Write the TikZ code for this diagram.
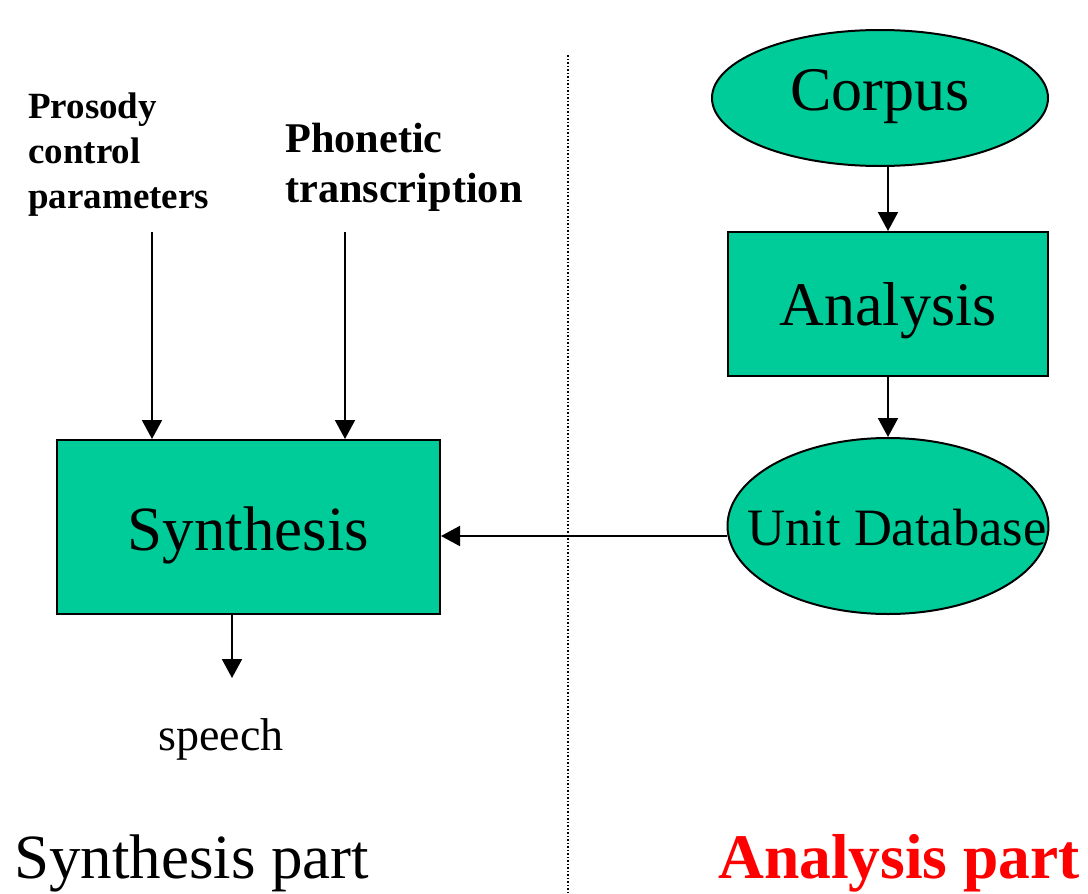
\documentclass[tikz,border=0pt]{standalone}
\usepackage{fontspec}
\setmainfont{Liberation Serif}
\usetikzlibrary{shapes.geometric,arrows.meta}
\definecolor{boxgreen}{HTML}{00CC99}
\definecolor{partred}{HTML}{FF0000}
\tikzset{
  box/.style={draw=black, line width=2pt, fill=boxgreen, rectangle, inner sep=0pt, text depth=0pt},
  oval/.style={draw=black, line width=2pt, fill=boxgreen, ellipse, inner sep=0pt, text depth=0pt},
  conn/.style={line width=2pt, -{Triangle[length=19pt,width=20pt]}},
}
\begin{document}
\begin{tikzpicture}[x=1pt,y=-1pt]
\useasboundingbox (0,0) rectangle (1088,894);
\draw[line width=1.5pt, dotted] (568,55) -- (568,894);

\node[oval, minimum width=336pt, minimum height=136pt, text height=24pt, font=\fontsize{62}{70}\selectfont] (corpus) at (880,98) {\makebox[0pt]{Corpus}};
\node[box, minimum width=320pt, minimum height=144pt, text height=42pt, font=\fontsize{62}{70}\selectfont] (analysis) at (888,304) {\makebox[0pt]{Analysis}};
\node[oval, minimum width=321pt, minimum height=176pt, text height=38pt, font=\fontsize{52.5}{60}\selectfont] (unitdb) at (888,526) {\makebox[0pt]{\hspace{18pt}Unit Database}};
\node[box, minimum width=383pt, minimum height=174pt, text height=46pt, font=\fontsize{63}{70}\selectfont] (synth) at (248.5,527) {\makebox[0pt]{Synthesis}};

\node[anchor=base west, align=left, inner sep=0pt, font=\bfseries\fontsize{37}{45}\selectfont] (prosody) at (28,208) {Prosody\\control\\parameters};
\node[anchor=base west, align=left, inner sep=0pt, font=\bfseries\fontsize{42.3}{50}\selectfont] (phon) at (285,202) {Phonetic\\transcription};
\node[anchor=base, inner sep=0pt, font=\fontsize{46}{52}\selectfont] (speech) at (221,750) {speech};

\node[anchor=base west, inner sep=0pt, font=\fontsize{63}{70}\selectfont] (synpart) at (14,878) {Synthesis part};
\node[anchor=base east, inner sep=0pt, text=partred, font=\bfseries\fontsize{63.5}{70}\selectfont] (anapart) at (1080,878) {Analysis part};

\coordinate (p1) at (152,232);
\coordinate (p2) at (345,232);
\coordinate (sp) at (232,678);

\draw[conn] (corpus.south -| 888,0) -- (analysis.north);
\draw[conn] (analysis.south) -- (unitdb.north);
\draw[conn] (unitdb.west |- 0,536) -- (synth.east |- 0,536);
\draw[conn] (p1) -- (p1 |- synth.north);
\draw[conn] (p2) -- (p2 |- synth.north);
\draw[conn] (synth.south -| sp) -- (sp);
\end{tikzpicture}
\end{document}
